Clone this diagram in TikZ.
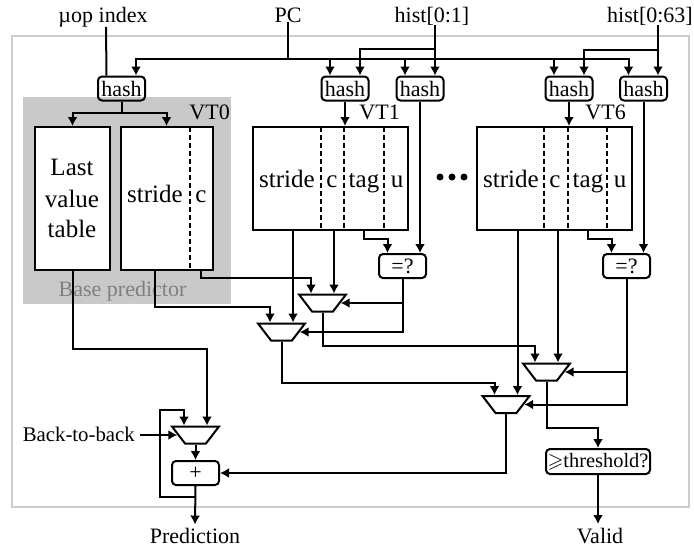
\documentclass[tikz,border=0pt]{standalone}
\usepackage{amssymb}
\usepackage{fontspec}
\setmainfont{Liberation Serif}
\usetikzlibrary{arrows.meta,shapes.geometric}

\tikzset{
  wire/.style={line width=2pt},
  link/.style={wire,-{Latex[length=9pt,width=10pt]}},
  cut/.style={line width=2pt,dash pattern=on 4.5pt off 3.5pt},
  tablebox/.style={draw,fill=white,line width=2pt,inner sep=0pt},
  hashbox/.style={draw,line width=2pt,rounded corners=4pt,inner sep=0pt,minimum width=47pt,minimum height=24pt},
  muxnode/.style={draw,line width=2pt,trapezium,shape border rotate=180,trapezium left angle=58,trapezium right angle=58,trapezium stretches=true,inner sep=2pt,minimum width=47pt,minimum height=17pt},
  lab/.style={inner sep=0pt,anchor=base},
  bigtxt/.style={lab,font=\fontsize{25}{30}\selectfont}
}

\begin{document}
\begin{tikzpicture}[x=1pt,y=-1pt,font=\fontsize{22}{26}\selectfont]
\useasboundingbox (0,0) rectangle (694,550);

% frame and shaded base predictor
\fill[black!21] (23,97) rectangle (231,304);
\draw[line width=2pt,black!20] (12,36) rectangle (689,507);
\node[lab,text=black!50] (basetxt) at (122.5,296) {Base predictor};

% inputs
\node[lab] (uop) at (103,22) {µop index};
\node[lab] (pc) at (288,22) {PC};
\node[lab] (hista) at (432,22) {hist[0:1]};
\node[lab] (histb) at (650,22) {hist[0:63]};

% hash units
\node[hashbox] (hash0) at (121.5,88.5) {hash};
\node[hashbox] (hash1) at (345,88.5) {hash};
\node[hashbox] (hash2) at (420,88.5) {hash};
\node[hashbox] (hash3) at (569,88.5) {hash};
\node[hashbox] (hash4) at (643.5,88.5) {hash};

% tables
\node[tablebox,minimum width=75pt,minimum height=143pt] (last) at (72.5,198.5) {};
\node[tablebox,minimum width=92pt,minimum height=143pt] (vt0) at (167,198.5) {};
\node[tablebox,minimum width=155pt,minimum height=103pt] (vt1) at (330.5,178.5) {};
\node[tablebox,minimum width=155pt,minimum height=103pt] (vt6) at (554.5,178.5) {};
\foreach \x in {321,344,384,544,567.5,607} \draw[cut] (\x,127) -- (\x,230);
\draw[cut] (190,127) -- (190,270);

\node[bigtxt] (t0) at (72,175) {Last};
\node[bigtxt] (t1) at (72,207) {value};
\node[bigtxt] (t2) at (72,237) {table};
\node[bigtxt] (s0) at (155,202) {stride};
\node[bigtxt] (c0) at (201,202) {c};
\node[bigtxt] (s1) at (287,187) {stride};
\node[bigtxt] (c1) at (332,187) {c};
\node[bigtxt] (tag1) at (364,187) {tag};
\node[bigtxt] (u1) at (397,187) {u};
\node[bigtxt] (s6) at (511,187) {stride};
\node[bigtxt] (c6) at (555,187) {c};
\node[bigtxt] (tag6) at (588,187) {tag};
\node[bigtxt] (u6) at (620,187) {u};
\node[lab,anchor=base east] (vtlab0) at (230,119) {VT0};
\node[lab,anchor=base east] (vtlab1) at (400,119) {VT1};
\node[lab,anchor=base east] (vtlab6) at (626,119) {VT6};
\foreach \x in {440,452,464} \fill (\x,177) circle (3.5);

% compare, mux, adder
\node[hashbox] (eq1) at (402.5,266) {=?};
\node[hashbox] (eq6) at (626.5,266) {=?};
\node[muxnode] (mux1) at (322.5,303) {};
\node[muxnode] (mux2) at (281.5,332) {};
\node[muxnode] (mux3) at (546.5,372) {};
\node[muxnode] (mux4) at (506,404.5) {};
\node[muxnode] (mux0) at (195.5,435) {};
\foreach \m in {mux0,mux1,mux2,mux3,mux4} {
  \coordinate (\m-l) at ([xshift=-11.5pt]\m.north);
  \coordinate (\m-r) at ([xshift=11.5pt]\m.north);
}
\node[hashbox] (adder) at (195.5,473) {+};
\node[hashbox,minimum width=104pt,minimum height=25pt,font=\fontsize{20.4}{24}\selectfont] (thresh) at (598,461.5) {$\geqslant$threshold?};
\node[lab,anchor=base east,font=\fontsize{20.8}{25}\selectfont] (b2b) at (135,441) {Back-to-back};
\node[lab] (pred) at (195,543) {Prediction};
\node[lab] (valid) at (600,543) {Valid};

% PC bus and hash inputs
\coordinate (busl) at (136,59);
\coordinate (busr) at (629,59);
\draw[wire] (busl) -- (busr);
\draw[wire] (pc.south) -- (pc.south |- busl);
\draw[wire] ([xshift=3pt]uop.south) -- ([xshift=-15pt]hash0.north);
\draw[link] ([xshift=14.5pt]hash0.north) ++(0,-18) -- ([xshift=14.5pt]hash0.north);
\foreach \h in {hash1,hash2,hash3,hash4}
  \draw[link] ([xshift=-15pt]\h.north) ++(0,-18) -- ([xshift=-15pt]\h.north);
\draw[link] ([xshift=3pt]hista.south) -- ([xshift=15pt]hash2.north);
\draw[link] ([xshift=15pt]hash2.north) ++(0,-27) -| ([xshift=15pt]hash1.north);
\draw[link] ([xshift=8pt]histb.south) -- ([xshift=14.5pt]hash4.north);
\draw[link] ([xshift=14.5pt]hash4.north) ++(0,-26) -| ([xshift=15pt]hash3.north);

% hash to tables
\draw[wire] (hash0.south) -- ++(0,11.5) coordinate (split);
\draw[link] (split) -| (last.north);
\draw[link] (split) -| ([xshift=-0.5pt]vt0.north);
\draw[link] (hash1.south) -- (hash1.south |- vt1.north);
\draw[link] (hash3.south) -- (hash3.south |- vt6.north);
\draw[link] (hash2.south) -- (hash2.south |- eq1.north);
\draw[link] (hash4.south) -- (hash4.south |- eq6.north);

% tag to compare
\draw[link] (vt1.south -| tag1.south) -- ++(0,8) -| ([xshift=-15pt]eq1.north);
\draw[link] (vt6.south -| tag6.south) -- ++(0,8) -| ([xshift=-15pt]eq6.north);

% values into muxes
\draw[link] (vt1.south -| mux1-r) -- (mux1-r);
\draw[link] (vt1.south -| mux2-r) -- (mux2-r);
\draw[link] (vt6.south -| mux3-r) -- (mux3-r);
\draw[link] (vt6.south -| mux4-r) -- (mux4-r);
\draw[link] (vt0.south -| c0.south) -- ++(0,7) -| (mux1-l);
\draw[link] (vt0.south -| s0.south) -- ++(0,36) -| (mux2-l);
\draw[link] (last.south) -- ++(0,78) -| (mux0-r);

% selects
\draw[link] (eq1.south) |- (mux1.east);
\draw[link] (eq1.south) |- (mux2.east);
\draw[link] (eq6.south) |- (mux3.east);
\draw[link] (eq6.south) |- (mux4.east);

% mux outputs
\draw[link] (mux1.south) -- ++(0,33) -| (mux3-l);
\draw[link] (mux2.south) -- ++(0,41) -| (mux4-l);
\draw[link] (mux3.south) -- ++(0,46.5) -| (thresh.north);
\draw[link] (mux4.south) |- (adder.east);
\draw[link] (thresh.south) -- ++(0,49);
\draw[link] (mux0.south) -- (adder.north);
\draw[link] (adder.south) -- ([yshift=3pt]pred.north);
\draw[link] (adder.south) ++(0,11) -- ++(-36,0) -- ++(0,-87) -| (mux0-l);
\draw[link,shorten <=5pt] (b2b.east |- mux0.west) -- (mux0.west);
\end{tikzpicture}
\end{document}
